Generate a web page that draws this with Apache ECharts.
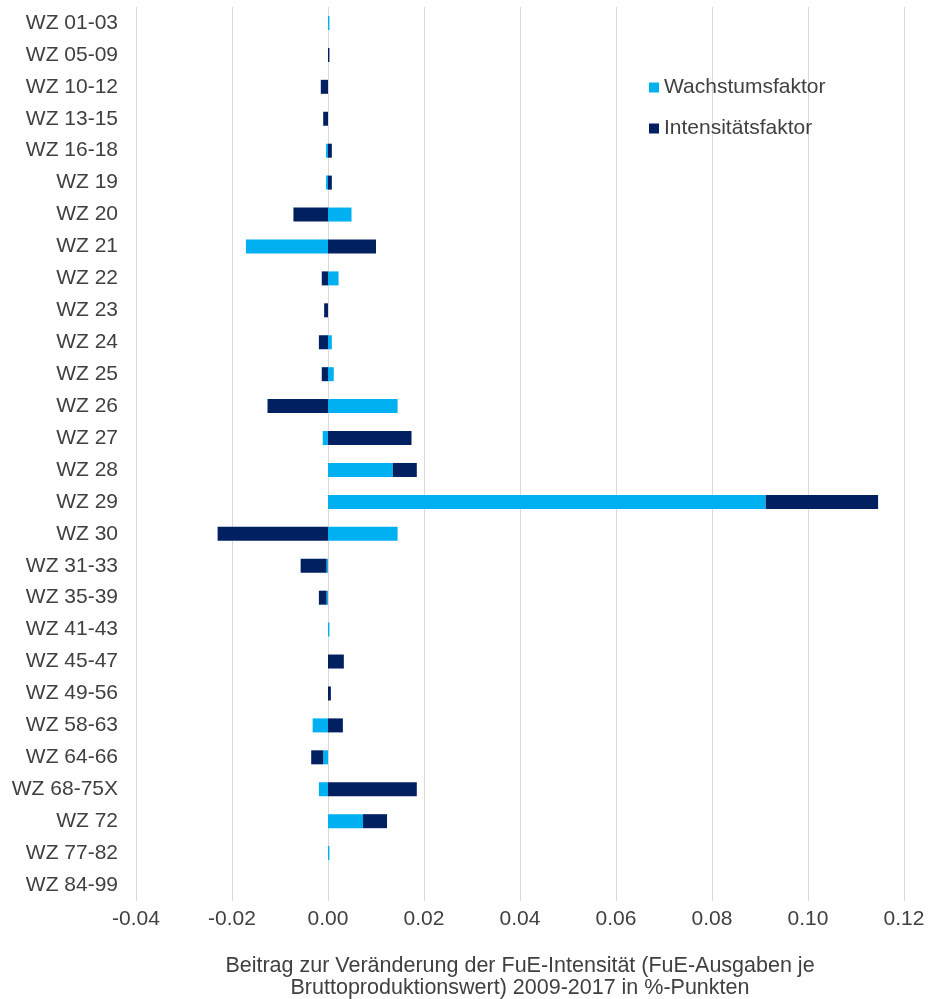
<!DOCTYPE html>
<html>
<head>
<meta charset="utf-8">
<script src="https://cdn.jsdelivr.net/npm/echarts@6/dist/echarts.min.js"></script>
<style>
html,body{margin:0;padding:0;background:#fff;}
#chart{width:931px;height:999px;}
</style>
</head>
<body>
<div id="chart"></div>
<script>
const categories = ['WZ 01-03','WZ 05-09','WZ 10-12','WZ 13-15','WZ 16-18','WZ 19','WZ 20','WZ 21','WZ 22','WZ 23','WZ 24','WZ 25','WZ 26','WZ 27','WZ 28','WZ 29','WZ 30','WZ 31-33','WZ 35-39','WZ 41-43','WZ 45-47','WZ 49-56','WZ 58-63','WZ 64-66','WZ 68-75X','WZ 72','WZ 77-82','WZ 84-99'];
const wachstumsfaktor = [0.0003, 0, 0, 0, -0.0004, -0.0004, 0.0049, -0.0171, 0.0022, 0, 0.0008, 0.0012, 0.0145, -0.0011, 0.0135, 0.0912, 0.0145, -0.0003, -0.0003, 0.0003, 0, 0, -0.0032, -0.0010, -0.0019, 0.0073, 0.0003, 0];
const intensitaetsfaktor = [0, 0.0003, -0.0015, -0.0010, 0.0008, 0.0008, -0.0072, 0.0100, -0.0013, -0.0008, -0.0019, -0.0013, -0.0126, 0.0174, 0.0050, 0.0234, -0.0230, -0.0054, -0.0016, 0, 0.0033, 0.0006, 0.0031, -0.0025, 0.0185, 0.0050, 0, 0];
const xTicks = { min: -0.04, max: 0.12, interval: 0.02 };
const seriesNames = ['Wachstumsfaktor', 'Intensitätsfaktor'];
const axisTitle = 'Beitrag zur Veränderung der FuE-Intensität (FuE-Ausgaben je\nBruttoproduktionswert) 2009-2017 in %-Punkten';

const FONT = 'Liberation Sans, Arial, sans-serif';
const TXT = '#404040';
const chart = echarts.init(document.getElementById('chart'));
chart.setOption({
  animation: false,
  backgroundColor: '#fff',
  textStyle: { fontFamily: FONT },
  legend: {
    orient: 'vertical',
    left: 644,
    top: 72,
    itemWidth: 10,
    itemHeight: 10,
    itemGap: 20,
    icon: 'rect',
    textStyle: { fontSize: 21, color: TXT, fontFamily: FONT },
    data: seriesNames
  },
  grid: { left: 136, right: 27, top: 7, bottom: 98, containLabel: false, outerBoundsMode: 'none' },
  xAxis: {
    type: 'value',
    min: xTicks.min, max: xTicks.max, interval: xTicks.interval,
    axisLine: { show: false },
    axisTick: { show: false },
    splitLine: { show: true, lineStyle: { color: '#d9d9d9', width: 1 } },
    axisLabel: { fontSize: 21, color: TXT, margin: 8, fontFamily: FONT, formatter: v => v.toFixed(2) },
    name: axisTitle,
    nameLocation: 'middle',
    nameGap: 54,
    nameTextStyle: { fontSize: 21.5, color: TXT, lineHeight: 22, fontFamily: FONT, align: 'center' }
  },
  yAxis: {
    type: 'category',
    inverse: true,
    data: categories,
    axisLine: { show: false },
    axisTick: { show: false },
    splitLine: { show: false },
    axisLabel: { fontSize: 21, color: TXT, margin: 18, fontFamily: FONT }
  },
  series: [
    { name: seriesNames[0], type: 'bar', stack: 'total', barWidth: 14, data: wachstumsfaktor, itemStyle: { color: '#00B0F0' } },
    { name: seriesNames[1], type: 'bar', stack: 'total', barWidth: 14, data: intensitaetsfaktor, itemStyle: { color: '#002060' } }
  ]
});
</script>
</body>
</html>
